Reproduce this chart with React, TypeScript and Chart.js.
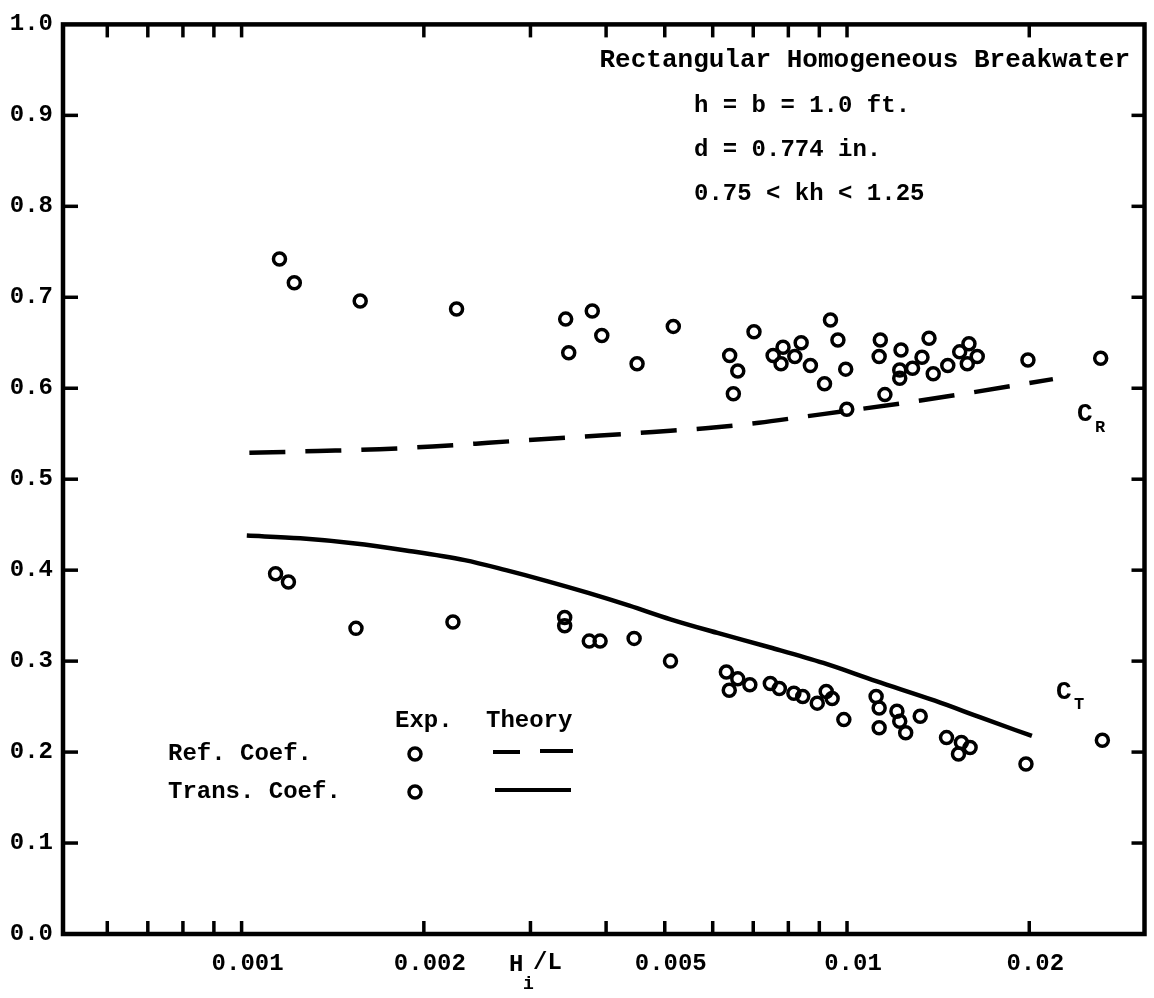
import { useEffect, useRef } from 'react';
import { Chart, registerables } from 'chart.js';

Chart.register(...registerables);

const FONT = '"Liberation Mono", "Courier New", monospace';

// ---- axis ticks ----
const xTickValues = [0.0006, 0.0007, 0.0008, 0.0009, 0.001, 0.002, 0.003, 0.004, 0.005, 0.006, 0.007, 0.008, 0.009, 0.01, 0.02];
const xLabelValues = [0.001, 0.002, 0.005, 0.01, 0.02];
const xLabelTexts = ['0.001', '0.002', '0.005', '0.01', '0.02'];
const yTickValues = [0.1, 0.2, 0.3, 0.4, 0.5, 0.6, 0.7, 0.8, 0.9];

// ---- experimental reflection coefficient (C_R) ----
const crExpX = [0.001155, 0.001222, 0.00157, 0.002265, 0.00343, 0.003795, 0.00347, 0.003935, 0.0045, 0.005165,
  0.0064, 0.0066, 0.00649, 0.00702, 0.00755, 0.00784, 0.00778, 0.0082, 0.0084, 0.0087,
  0.00918, 0.00939, 0.00966, 0.00995, 0.00999, 0.01135, 0.0113, 0.01155, 0.01228, 0.01222,
  0.01222, 0.01283, 0.0133, 0.01366, 0.01388, 0.01467, 0.01535, 0.0159, 0.0158, 0.01641,
  0.0199, 0.02624];
const crExpY = [0.742, 0.716, 0.696, 0.687, 0.676, 0.685, 0.639, 0.658, 0.627, 0.668,
  0.636, 0.619, 0.594, 0.662, 0.636, 0.645, 0.627, 0.635, 0.650, 0.625,
  0.605, 0.675, 0.653, 0.621, 0.577, 0.653, 0.635, 0.593, 0.642, 0.620,
  0.611, 0.622, 0.634, 0.655, 0.616, 0.625, 0.640, 0.649, 0.627, 0.635,
  0.631, 0.633];

// ---- experimental transmission coefficient (C_T) ----
const ctExpX = [0.001138, 0.001195, 0.001545, 0.002234, 0.003417, 0.003417, 0.003752, 0.00391, 0.00445, 0.00511,
  0.00632, 0.00639, 0.0066, 0.00691, 0.00747, 0.00773, 0.00817, 0.00845, 0.00893, 0.00924,
  0.00945, 0.00988, 0.01117, 0.0113, 0.0113, 0.01209, 0.01222, 0.0125, 0.01321, 0.0146,
  0.01545, 0.01597, 0.01528, 0.01975, 0.02641];
const ctExpY = [0.396, 0.387, 0.336, 0.343, 0.348, 0.339, 0.322, 0.322, 0.325, 0.300,
  0.288, 0.268, 0.2805, 0.274, 0.2755, 0.270, 0.2646, 0.261, 0.2538, 0.2665,
  0.259, 0.2357, 0.261, 0.2484, 0.2267, 0.2448, 0.234, 0.2213, 0.2394, 0.2159,
  0.2105, 0.205, 0.198, 0.187, 0.213];

// ---- theory curves ----
const crTheoryX = [0.00103, 0.001336, 0.00169, 0.002067, 0.002555, 0.003125, 0.00391, 0.00478, 0.00584, 0.00715,
  0.00854, 0.01022, 0.01277, 0.01597, 0.02188];
const crTheoryY = [0.529, 0.531, 0.533, 0.536, 0.540, 0.544, 0.548, 0.552, 0.556, 0.562,
  0.569, 0.576, 0.585, 0.595, 0.610];
const ctTheoryX = [0.00102, 0.00125, 0.001528, 0.001868, 0.002336, 0.002733, 0.003195, 0.003737, 0.00437, 0.00511,
  0.00611, 0.00747, 0.00914, 0.01117, 0.01397, 0.0167, 0.0202];
const ctTheoryY = [0.438, 0.435, 0.4296, 0.4217, 0.411, 0.400, 0.388, 0.375, 0.361, 0.346,
  0.331, 0.315, 0.298, 0.278, 0.2565, 0.2375, 0.2177];

const zip = (xs: number[], ys: number[]) => xs.map((x, i) => ({ x, y: ys[i] }));

const decorPlugin = {
  id: 'decor',
  afterDraw(chart: any) {
    const { ctx, chartArea: a, scales } = chart;
    const xs = scales.x;
    const ys = scales.y;
    const line = (x1: number, y1: number, x2: number, y2: number) => {
      ctx.beginPath();
      ctx.moveTo(x1, y1);
      ctx.lineTo(x2, y2);
      ctx.stroke();
    };
    ctx.save();
    ctx.strokeStyle = '#000';
    ctx.fillStyle = '#000';
    ctx.lineCap = 'butt';
    // frame
    ctx.lineWidth = 4.5;
    ctx.strokeRect(a.left, a.top, a.right - a.left, a.bottom - a.top);
    // inward ticks
    ctx.lineWidth = 3.5;
    xTickValues.forEach((v) => {
      const px = xs.getPixelForValue(v);
      line(px, a.bottom, px, a.bottom - 13);
      line(px, a.top, px, a.top + 13);
    });
    yTickValues.forEach((v) => {
      const py = ys.getPixelForValue(v);
      line(a.left, py, a.left + 15, py);
      line(a.right, py, a.right - 13, py);
    });

    // annotation text
    ctx.textBaseline = 'middle';
    ctx.font = `bold 26px ${FONT}`;
    ctx.textAlign = 'right';
    ctx.fillText('Rectangular Homogeneous Breakwater', 1130, 60);
    ctx.textAlign = 'left';
    ctx.font = `bold 24px ${FONT}`;
    ctx.fillText('h = b = 1.0 ft.', 694, 106);
    ctx.fillText('d = 0.774 in.', 694, 150);
    ctx.fillText('0.75 < kh < 1.25', 694, 194);

    // curve labels
    ctx.font = `bold 26px ${FONT}`;
    ctx.fillText('C', 1077, 414);
    ctx.font = `bold 17px ${FONT}`;
    ctx.fillText('R', 1095, 428);
    ctx.font = `bold 26px ${FONT}`;
    ctx.fillText('C', 1056, 692);
    ctx.font = `bold 17px ${FONT}`;
    ctx.fillText('T', 1074, 705);

    // legend
    ctx.font = `bold 24px ${FONT}`;
    ctx.fillText('Exp.', 395, 721);
    ctx.fillText('Theory', 486, 721);
    ctx.fillText('Ref. Coef.', 168, 754);
    ctx.fillText('Trans. Coef.', 168, 792);
    ctx.lineWidth = 3.5;
    ctx.beginPath();
    ctx.arc(415, 754, 6, 0, Math.PI * 2);
    ctx.stroke();
    ctx.beginPath();
    ctx.arc(415, 792, 6, 0, Math.PI * 2);
    ctx.stroke();
    ctx.lineWidth = 4;
    line(493, 752, 520, 752);
    line(540, 751, 573, 751);
    line(495, 790, 571, 790);

    // axis title H_i/L
    ctx.font = `bold 24px ${FONT}`;
    ctx.fillText('H', 509, 965);
    ctx.font = `bold 18px ${FONT}`;
    ctx.fillText('i', 523, 984);
    ctx.font = `bold 24px ${FONT}`;
    ctx.fillText('/L', 533, 963);
    ctx.restore();
  },
};

export default function App() {
  const ref = useRef<HTMLCanvasElement | null>(null);
  useEffect(() => {
    document.body.style.margin = '0';
    const canvas = ref.current;
    if (!canvas) return;
    const pointStyle = {
      pointStyle: 'circle',
      pointRadius: 6,
      pointBorderWidth: 3.5,
      borderColor: '#000',
      backgroundColor: 'rgba(0,0,0,0)',
      showLine: false,
    };
    const chart = new Chart(canvas, {
      type: 'scatter',
      data: {
        datasets: [
          { label: 'Ref. Coef. (Exp.)', data: zip(crExpX, crExpY), ...pointStyle },
          { label: 'Trans. Coef. (Exp.)', data: zip(ctExpX, ctExpY), ...pointStyle },
          {
            label: 'Ref. Coef. (Theory)',
            data: zip(crTheoryX, crTheoryY),
            showLine: true,
            pointRadius: 0,
            borderColor: '#000',
            borderWidth: 4.5,
            borderDash: [36, 20],
            cubicInterpolationMode: 'monotone',
            fill: false,
          },
          {
            label: 'Trans. Coef. (Theory)',
            data: zip(ctTheoryX, ctTheoryY),
            showLine: true,
            pointRadius: 0,
            borderColor: '#000',
            borderWidth: 4.5,
            cubicInterpolationMode: 'monotone',
            fill: false,
          },
        ],
      },
      options: {
        animation: false,
        responsive: true,
        maintainAspectRatio: false,
        layout: { padding: { top: 16, right: 7, left: 0, bottom: 0 } },
        plugins: {
          legend: { display: false },
          title: { display: false },
          tooltip: { enabled: false },
        },
        scales: {
          x: {
            type: 'logarithmic',
            min: 0.000507,
            max: 0.031,
            grid: { display: false, drawTicks: false, tickLength: 0 },
            border: { display: false },
            afterBuildTicks: (scale: any) => {
              scale.ticks = xTickValues.map((v) => ({ value: v }));
            },
            afterFit: (scale: any) => {
              scale.height = 64;
            },
            ticks: {
              autoSkip: false,
              maxRotation: 0,
              minRotation: 0,
              padding: 16,
              labelOffset: 6,
              color: '#000',
              font: { family: FONT, size: 24, weight: 'bold' },
              callback: (value: any) => {
                const v = Number(value);
                const i = xLabelValues.findIndex((l) => Math.abs(l - v) / l < 1e-6);
                return i >= 0 ? xLabelTexts[i] : '';
              },
            },
          },
          y: {
            type: 'linear',
            min: 0,
            max: 1,
            grid: { display: false, drawTicks: false, tickLength: 0 },
            border: { display: false },
            afterFit: (scale: any) => {
              scale.width = 63;
            },
            ticks: {
              stepSize: 0.1,
              padding: 10,
              color: '#000',
              font: { family: FONT, size: 24, weight: 'bold' },
              callback: (value: any) => Number(value).toFixed(1),
            },
          },
        },
      },
      plugins: [decorPlugin],
    } as any);
    return () => chart.destroy();
  }, []);

  return (
    <div style={{ width: 1154, height: 998, position: 'relative', background: '#fff' }}>
      <canvas ref={ref} />
    </div>
  );
}
